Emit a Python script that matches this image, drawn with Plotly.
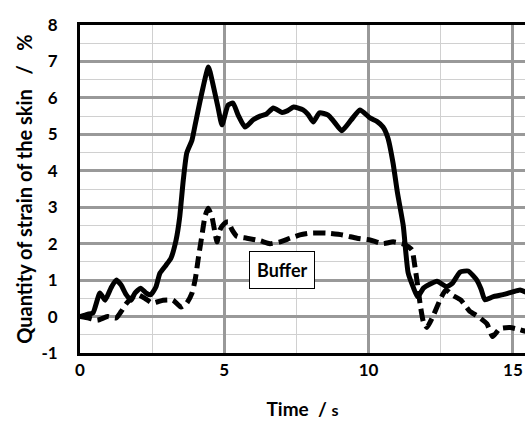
import plotly.graph_objects as go

# Solid curve (no label)
t_solid = [0, 0.25, 0.45, 0.69, 0.87, 1.07, 1.25, 1.42, 1.6, 1.77, 1.9, 2.1, 2.3, 2.45, 2.63, 2.77,
           2.98, 3.15, 3.33, 3.45, 3.58, 3.7, 3.88, 4.0, 4.22, 4.45, 4.6, 4.78, 4.92, 5.13, 5.3, 5.48,
           5.72, 6.0, 6.24, 6.45, 6.7, 7.0, 7.2, 7.4, 7.73, 7.9, 8.08, 8.3, 8.6, 8.8, 9.07, 9.4, 9.7,
           10.05, 10.3, 10.5, 10.67, 10.85, 11.0, 11.2, 11.37, 11.55, 11.7, 11.9, 12.1, 12.37, 12.7,
           12.9, 13.17, 13.45, 13.75, 13.9, 14.03, 14.3, 14.66, 14.97, 15.25, 15.5]
y_solid = [0, 0.06, 0.1, 0.65, 0.45, 0.78, 1.0, 0.87, 0.6, 0.45, 0.64, 0.78, 0.64, 0.6, 0.81, 1.19,
           1.41, 1.6, 2.1, 2.7, 3.75, 4.49, 4.84, 5.3, 6.13, 6.85, 6.4, 5.75, 5.26, 5.8, 5.86, 5.53,
           5.2, 5.4, 5.5, 5.55, 5.72, 5.6, 5.65, 5.75, 5.67, 5.55, 5.34, 5.59, 5.53, 5.35, 5.1, 5.4, 5.67,
           5.45, 5.35, 5.2, 4.9, 4.2, 3.4, 2.5, 1.2, 0.8, 0.54, 0.78, 0.88, 0.97, 0.82,
           0.91, 1.22, 1.25, 1.0, 0.75, 0.46, 0.54, 0.6, 0.67, 0.73, 0.65]

# Dashed curve ("Buffer")
t_buffer = [0, 0.3, 0.6, 0.95, 1.25, 1.42, 1.6, 1.84, 2.0, 2.25, 2.5, 2.88, 3.22, 3.5, 3.7, 3.88,
            4.0, 4.1, 4.22, 4.33, 4.44, 4.57, 4.68, 4.75, 4.85, 5.0, 5.13, 5.27, 5.44, 5.78, 6.24,
            6.58, 6.93, 7.28, 7.62, 7.97, 8.55, 9.1, 9.6, 10.05, 10.5, 10.85, 11.25, 11.5, 11.6,
            11.7, 11.8, 11.9, 12.02, 12.25, 12.5, 12.68, 12.9, 13.2, 13.5, 13.8, 14.1, 14.3, 14.55,
            14.9, 15.2, 15.5]
y_buffer = [0, -0.04, -0.1, 0, -0.04, 0.13, 0.35, 0.54, 0.6, 0.5, 0.37, 0.45, 0.45, 0.26, 0.37, 0.64,
            1.05, 1.6, 2.2, 2.74, 2.97, 2.74, 2.29, 2.05, 2.38, 2.55, 2.6, 2.38, 2.2, 2.15, 2.08,
            2.0, 2.05, 2.15, 2.24, 2.29, 2.29, 2.24, 2.15, 2.1, 2.0, 2.05, 1.98, 1.83, 1.4,
            0.85, 0.27, -0.15, -0.3, 0.04, 0.5, 0.73, 0.59, 0.45, 0.15, 0.0, -0.2, -0.55, -0.33,
            -0.3, -0.35, -0.42]

x_ticks = [0, 5, 10, 15]
y_ticks = [-1, 0, 1, 2, 3, 4, 5, 6, 7, 8]

FONT = "Lato"

fig = go.Figure()
fig.add_trace(go.Scatter(x=t_solid, y=y_solid, mode="lines",
                         line=dict(color="black", width=5, shape="spline", smoothing=0.5),
                         showlegend=False, name="Solid"))
fig.add_trace(go.Scatter(x=t_buffer, y=y_buffer, mode="lines",
                         line=dict(color="black", width=5, dash="12px,6px", shape="spline", smoothing=0.5),
                         showlegend=False, name="Buffer"))

fig.add_annotation(x=7.0, y=1.28, xref="x", yref="y", text="<b>Buffer</b>", showarrow=False,
                   font=dict(family=FONT, size=18, color="black"),
                   bordercolor="black", borderwidth=1, borderpad=7, bgcolor="white")

fig.update_layout(
    width=525, height=427,
    margin=dict(l=80, r=0, t=25, b=74),
    paper_bgcolor="white", plot_bgcolor="white",
    font=dict(family=FONT, color="black"),
    xaxis=dict(range=[0, 15.42], tickvals=x_ticks, ticktext=[f"<b>{v}</b>" for v in x_ticks],
               showgrid=True, gridcolor="#999999", gridwidth=3,
               minor=dict(dtick=2.5, tick0=0, showgrid=True, gridcolor="#d0d0d0", gridwidth=1),
               showline=True, linecolor="black", linewidth=3, mirror=True, automargin=False,
               ticks="", tickfont=dict(family=FONT, size=17), zeroline=False,
               title=dict(text="<b>Time  / <span style='font-size:16px'>s</span></b>",
                          font=dict(family=FONT, size=19), standoff=24)),
    yaxis=dict(range=[-1, 8], tickvals=y_ticks, ticktext=[f"<b>{v}</b>" for v in y_ticks],
               showgrid=True, gridcolor="#999999", gridwidth=3,
               minor=dict(dtick=0.5, tick0=0, showgrid=True, gridcolor="#d0d0d0", gridwidth=1),
               showline=True, linecolor="black", linewidth=3, mirror=False, automargin=False,
               ticks="", tickfont=dict(family=FONT, size=17), zeroline=False, ticklabelstandoff=16,
               title=dict(text="<b>Quantity of strain of the skin   /   %</b>",
                          font=dict(family=FONT, size=20), standoff=4)),
)

# Remove the default page margin so the 525x427 figure fills the window exactly.
fig.write_html("out.html", config={"displayModeBar": False},
               post_script="document.body.style.margin='0';document.body.style.overflow='hidden';")
